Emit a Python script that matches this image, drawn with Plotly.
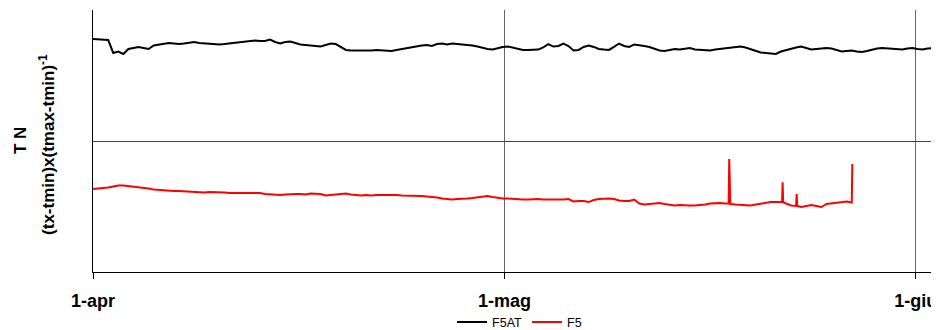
import pandas as pd
import plotly.graph_objects as go

# ---- data ----
start = "2009-04-01 00:00"
step_hours = 9

f5at_values = [
    1.779, 1.775, 1.775, 1.771, 1.672, 1.683, 1.664, 1.702, 1.710, 1.718,
    1.710, 1.702, 1.729, 1.737, 1.740, 1.748, 1.744, 1.740, 1.744, 1.752,
    1.756, 1.748, 1.744, 1.740, 1.740, 1.737, 1.740, 1.744, 1.748, 1.752,
    1.756, 1.763, 1.767, 1.763, 1.763, 1.775, 1.756, 1.744, 1.756, 1.760,
    1.748, 1.737, 1.733, 1.729, 1.725, 1.721, 1.733, 1.744, 1.740, 1.718,
    1.695, 1.691, 1.691, 1.687, 1.687, 1.691, 1.695, 1.691, 1.687, 1.687,
    1.695, 1.702, 1.714, 1.718, 1.725, 1.729, 1.733, 1.725, 1.740, 1.744,
    1.737, 1.744, 1.740, 1.737, 1.733, 1.729, 1.721, 1.710, 1.702, 1.698,
    1.710, 1.718, 1.721, 1.714, 1.702, 1.695, 1.695, 1.695, 1.698, 1.714,
    1.740, 1.721, 1.725, 1.744, 1.725, 1.691, 1.695, 1.718, 1.729, 1.718,
    1.702, 1.698, 1.695, 1.718, 1.744, 1.725, 1.718, 1.737, 1.733, 1.725,
    1.718, 1.706, 1.691, 1.687, 1.695, 1.702, 1.698, 1.706, 1.710, 1.698,
    1.695, 1.691, 1.691, 1.698, 1.702, 1.710, 1.714, 1.718, 1.721, 1.714,
    1.702, 1.687, 1.676, 1.672, 1.668, 1.664, 1.683, 1.695, 1.706, 1.714,
    1.721, 1.710, 1.698, 1.702, 1.706, 1.710, 1.706, 1.695, 1.683, 1.687,
    1.691, 1.683, 1.679, 1.687, 1.698, 1.706, 1.710, 1.706, 1.702, 1.698,
    1.698, 1.706, 1.710, 1.702, 1.698, 1.706, 1.710,
]

f5_values = [
    0.634, 0.637, 0.641, 0.645, 0.653, 0.660, 0.660, 0.656, 0.653, 0.649,
    0.641, 0.637, 0.630, 0.626, 0.622, 0.622, 0.618, 0.618, 0.615, 0.615,
    0.611, 0.611, 0.607, 0.611, 0.611, 0.611, 0.607, 0.603, 0.603, 0.603,
    0.599, 0.599, 0.599, 0.603, 0.595, 0.592, 0.592, 0.588, 0.592, 0.595,
    0.595, 0.595, 0.592, 0.599, 0.595, 0.595, 0.584, 0.588, 0.588, 0.592,
    0.599, 0.592, 0.588, 0.584, 0.588, 0.584, 0.588, 0.588, 0.592, 0.588,
    0.588, 0.584, 0.584, 0.580, 0.580, 0.580, 0.576, 0.573, 0.569, 0.561,
    0.557, 0.553, 0.557, 0.557, 0.561, 0.565, 0.569, 0.576, 0.580, 0.573,
    0.565, 0.561, 0.561, 0.557, 0.553, 0.553, 0.553, 0.557, 0.557, 0.553,
    0.553, 0.550, 0.550, 0.553, 0.557, 0.538, 0.542, 0.542, 0.534, 0.550,
    0.557, 0.561, 0.561, 0.557, 0.546, 0.542, 0.542, 0.553, 0.523, 0.515,
    0.519, 0.523, 0.527, 0.519, 0.511, 0.508, 0.511, 0.508, 0.508, 0.508,
    0.511, 0.515, 0.523, 0.527, 0.527, 0.523, 0.519, 0.515, 0.511, 0.508,
    0.508, 0.515, 0.523, 0.531, 0.534, 0.534, 0.534, 0.523, 0.508, 0.504,
    0.496, 0.504, 0.511, 0.504, 0.496, 0.519, 0.523, 0.527, 0.531, 0.538,
    0.531,
]

# short-lived peaks of F5 (times and values)
f5_peak_times = [
    "2009-05-18 03:00", "2009-05-18 04:00", "2009-05-18 05:00",
    "2009-05-22 02:00", "2009-05-22 03:00", "2009-05-22 04:00",
    "2009-05-23 04:00", "2009-05-23 05:00",
    "2009-05-27 07:00",
]
f5_peak_values = [
    0.523, 0.863, 0.523,
    0.534, 0.685, 0.534,
    0.595, 0.504,
    0.824,
]

tick_dates = ["2009-04-01", "2009-05-01 12:00", "2009-06-01"]
tick_labels = ["1-apr", "1-mag", "1-giu"]
x_range = ["2009-04-01 00:00", "2009-06-02 03:00"]
y_range = [0, 2]

# ---- build series ----
t_f5at = pd.date_range(start, periods=len(f5at_values), freq=f"{step_hours}h")
t_f5 = pd.date_range(start, periods=len(f5_values), freq=f"{step_hours}h")
df_f5 = pd.concat([
    pd.DataFrame({"t": t_f5, "v": f5_values}),
    pd.DataFrame({"t": pd.to_datetime(f5_peak_times), "v": f5_peak_values}),
]).sort_values("t")

font_family = "Liberation Sans, Arial, sans-serif"

fig = go.Figure()
fig.add_trace(go.Scatter(x=t_f5at, y=f5at_values, mode="lines", name="F5AT",
                         line=dict(color="#000000", width=2)))
fig.add_trace(go.Scatter(x=df_f5["t"], y=df_f5["v"], mode="lines", name="F5",
                         line=dict(color="#ff0000", width=2)))

# the page body adds an 8 px offset, so the figure is 8 px smaller
fig.update_layout(
    width=931, height=322,
    margin=dict(l=85, r=8, t=2, b=58, autoexpand=False),
    paper_bgcolor="white", plot_bgcolor="white",
    font=dict(family=font_family, color="black"),
    showlegend=True,
    legend=dict(orientation="h", x=0.509, xanchor="center", y=-0.192, yanchor="middle",
                font=dict(size=12.5, family=font_family, color="black"),
                bgcolor="rgba(0,0,0,0)", itemwidth=30, tracegroupgap=0),
    xaxis=dict(
        type="date", range=x_range, automargin=False,
        tickmode="array", tickvals=tick_dates,
        ticktext=[f"<b>{s}</b>" for s in tick_labels],
        tickfont=dict(size=18, family=font_family, color="black"),
        ticks="outside", ticklen=6, tickcolor="black",
        showline=True, linecolor="black", linewidth=1,
        showgrid=True, gridcolor="#666666", gridwidth=1,
        zeroline=False, ticklabelstandoff=6,
    ),
    yaxis=dict(
        range=y_range, tickmode="array", tickvals=[0, 1, 2], automargin=False,
        showticklabels=False, ticks="",
        showline=True, linecolor="black", linewidth=1,
        showgrid=True, gridcolor="#444444", gridwidth=1,
        zeroline=False,
    ),
    annotations=[
        dict(text="<b>T N</b>", xref="paper", yref="paper",
             x=(20 - 93) / 838, y=0.5, xanchor="center", yanchor="middle",
             textangle=-90, showarrow=False,
             font=dict(size=17, family=font_family, color="black")),
        dict(text="<b>(tx-tmin)x(tmax-tmin)<sup>-1</sup></b>", xref="paper", yref="paper",
             x=(47 - 93) / 838, y=0.485, xanchor="center", yanchor="middle",
             textangle=-90, showarrow=False,
             font=dict(size=17, family=font_family, color="black")),
    ],
)

fig.write_html("out.html")
